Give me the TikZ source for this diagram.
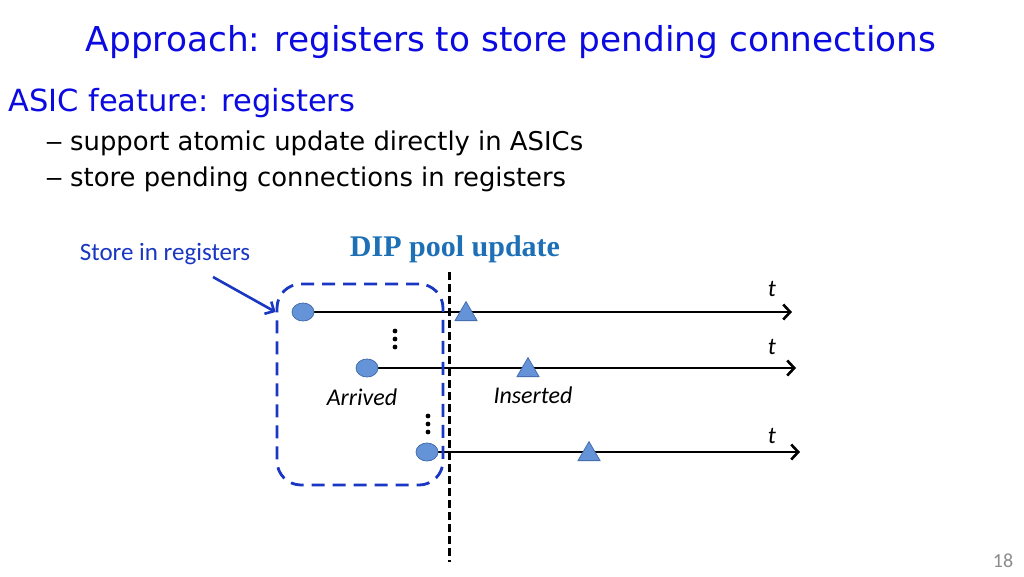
\documentclass[tikz,border=0pt]{standalone}
\usepackage{fontspec}
\setmainfont{DejaVu Sans}
\newfontfamily\calfont{Carlito}
\newfontfamily\dipfont{Liberation Serif}
\usetikzlibrary{arrows.meta,backgrounds,positioning,shapes.geometric}
\definecolor{titleblue}{RGB}{10,10,225}
\definecolor{boxblue}{RGB}{25,55,195}
\definecolor{dipblue}{RGB}{30,112,182}
\definecolor{markfill}{RGB}{100,148,215}
\definecolor{markedge}{RGB}{70,110,175}
\definecolor{pagegray}{RGB}{140,140,140}
\newcommand{\itemdash}{\makebox[25pt][l]{\scalebox{1.4}[1]{–}}}

\begin{document}
\begin{tikzpicture}[x=1pt,y=-1pt, conn/.style={ellipse, minimum width=22pt, minimum height=18pt, inner sep=0pt, fill=markfill, draw=markedge, line width=0.8pt}, ins/.style={isosceles triangle, isosceles triangle stretches, shape border rotate=90, minimum height=19pt, minimum width=22pt, inner sep=0pt, fill=markfill, draw=markedge, line width=0.8pt, anchor=south}, timeline/.style={line width=2.6pt, -{Straight Barb[length=7pt,width=15pt,line width=2.6pt]}}, lbl/.style={font=\calfont\itshape\fontsize{24}{24}\selectfont, inner sep=0pt}, regbox/.style={draw=boxblue, line width=2.8pt, dash pattern=on 13pt off 8pt, rounded corners=24pt, minimum width=166pt, minimum height=201pt}]
		\useasboundingbox (0,0) rectangle (1024,576);

		\node[text=titleblue, font=\fontsize{34.3}{34}\selectfont] (title) at (511,42) {Approach: registers to store pending connections};
		\node[text=titleblue, font=\fontsize{30.5}{30}\selectfont, anchor=west, inner sep=0pt] (feat) at (8,103) {ASIC feature: registers};
		\node[font=\fontsize{25.85}{26}\selectfont, anchor=west, inner sep=0pt] (item1) at (45,143) {\itemdash support atomic update directly in ASICs};
		\node[font=\fontsize{25.85}{26}\selectfont, anchor=west, inner sep=0pt] (item2) at (45,179) {\itemdash store pending connections in registers};

		\node[text=boxblue, font=\calfont\fontsize{25}{25}\selectfont, inner sep=0pt] (store) at (165,254) {Store in registers};
		\node[text=dipblue, font=\dipfont\bfseries\fontsize{30}{30}\selectfont, inner sep=0pt] (dip) at (455,249) {DIP pool update};

		\node[regbox] (reg) at (360,384.5) {};
		\coordinate (vt) at (449,272);
		\coordinate (vb) at (449,562);
		\draw[line width=3pt, dash pattern=on 8pt off 4pt] (vt) -- (vb);

		\node[conn] (a1) at (303,312) {};
		\node[conn] (a2) at (367,368) {};
		\node[conn] (a3) at (427,452) {};
		\coordinate (e1) at (792,312);
		\coordinate (e2) at (796,368);
		\coordinate (e3) at (800,452);
		\node[ins] (i1) at (466,321) {};
		\node[ins] (i2) at (528,377) {};
		\node[ins] (i3) at (589,461) {};
		\begin{scope}[on background layer]
			\draw[timeline] (a1.center) -- (e1);
			\draw[timeline] (a2.center) -- (e2);
			\draw[timeline] (a3.center) -- (e3);
		\end{scope}

		\node[lbl] (t1) at (772,289) {t};
		\node[lbl] (t2) at (772,347) {t};
		\node[lbl] (t3) at (772,436) {t};
		\node[lbl] (arr) at (362,397) {Arrived};
		\node[lbl] (insd) at (533,395) {Inserted};

		\foreach \y in {331,339,347} \fill (395,\y) circle (2.4pt);
		\foreach \y in {416,424,432} \fill (428,\y) circle (2.4pt);

		\coordinate (sa) at (213,277);
		\draw[boxblue, line width=2.6pt, -{Straight Barb[length=7pt,width=14pt,line width=2.6pt]}] (sa) -- (reg.west |- a1);

		\node[text=pagegray, font=\calfont\fontsize{20}{20}\selectfont] (page) at (1003,561) {18};
	\end{tikzpicture}
\end{document}
